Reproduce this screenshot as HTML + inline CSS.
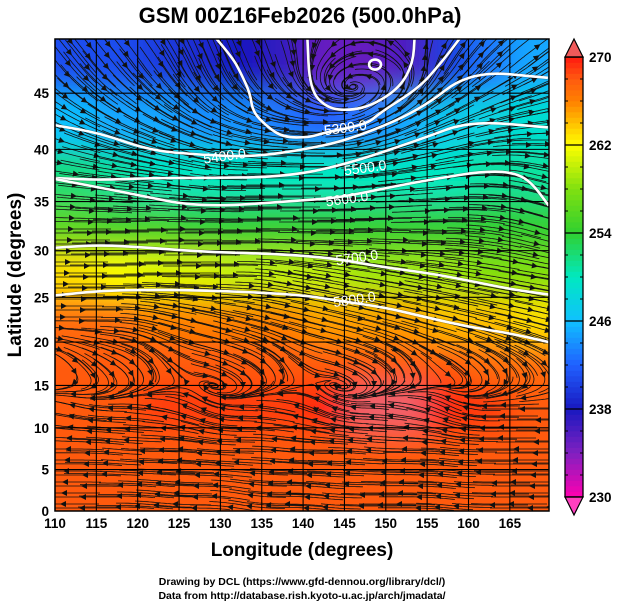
<!DOCTYPE html>
<html><head><meta charset="utf-8"><style>
html,body{margin:0;padding:0;background:#fff;}
svg{display:block;font-family:"Liberation Sans",Arial,sans-serif;}
</style></head><body>
<svg id="chart" width="619" height="605" viewBox="0 0 619 605">
<defs>
<clipPath id="plotclip"><rect x="55" y="39" width="494" height="472"/></clipPath>
<filter id="blur" x="-20%" y="-20%" width="140%" height="140%"><feGaussianBlur stdDeviation="14"/></filter>
</defs>
<text x="300" y="23" text-anchor="middle" font-size="22" font-weight="bold">GSM 00Z16Feb2026 (500.0hPa)</text>
<g id="field" clip-path="url(#plotclip)"><g id="cells" filter="url(#blur)"></g></g>
<g id="stream" clip-path="url(#plotclip)"></g>
<g id="grid"></g>
<g id="contours" clip-path="url(#plotclip)"></g>
<rect x="55" y="39" width="494" height="472" fill="none" stroke="#000" stroke-width="1.5"/>
<g id="xticks"></g>
<g id="yticks"></g>
<text x="302" y="556" text-anchor="middle" font-size="19" font-weight="bold">Longitude (degrees)</text>
<text transform="translate(21,275) rotate(-90)" text-anchor="middle" font-size="19" font-weight="bold">Latitude  (degrees)</text>
<g id="cbar"></g>
<text x="302" y="585" text-anchor="middle" font-size="10.5" font-weight="bold">Drawing by DCL (https://www.gfd-dennou.org/library/dcl/)</text>
<text x="302" y="599" text-anchor="middle" font-size="10.5" font-weight="bold">Data from http://database.rish.kyoto-u.ac.jp/arch/jmadata/</text>
</svg>
<script>
// ---- data ----
const lonCenters = [112.5,117.5,122.5,127.5,132.5,137.5,142.5,147.5,152.5,157.5,162.5,167.5];
const latCenters = [47.5,42.5,37.5,32.5,27.5,22.5,17.5,12.5,7.5,2.5];
const temp = [
 [241,241,240,239,238,237,235,235,236,240,243,245],
 [246,245,245,244,244,243,242,243,245,247,248,249],
 [252,251,250,250,250,250,250,250,250,250,251,251],
 [256,255,255,254,254,254,254,254,254,254,254,254],
 [263,262,261,261,260,260,260,259,259,259,258,258],
 [267,267,266,266,266,266,265,265,265,264,264,263],
 [268,268,268,268,268,268,268,268,268,268,267,267],
 [268,268,269,269,269,269,270,271,271,270,269,268],
 [268,268,268,268,268,268,268,268,268,268,268,268],
 [268,268,268,268,268,268,268,268,268,268,268,268]
];
const windU = [
 [4,4,4,3,3,2,-2,-4,-2,3,4,4],
 [6,6,6,6,6,6,6,5,6,7,7,7],
 [8,8,8,8,8,9,9,9,9,9,9,8],
 [6,6,7,7,8,8,8,8,8,8,8,7],
 [5,5,5,5,6,6,6,6,6,6,6,6],
 [3,3,4,4,4,4,4,4,4,4,4,4],
 [1,1.5,1,2,2,1,2,2,1,1.5,1,1],
 [-2,-2,-2.5,-2,-2,-2.5,-2,-2,-2.5,-2,-2,-2],
 [-3,-3,-3,-3,-3,-3,-3,-3,-3,-3,-3,-3],
 [-3,-3,-3,-3,-3,-3,-3,-3,-3,-3,-3,-3]
];
const windV = [
 [-5,-5,-6,-7,-7,-6,-3,0,3,5,4,3],
 [-3,-3,-3,-3,-2,-1,0,2,3,3,2,1],
 [-1,-1,-1,-1,0,0,0,1,1,1,0,-2],
 [0,0,0,0,0,0,0,0,0,0,-1,-2],
 [0,0,0,0,0,-1,-1,-1,-1,-1,-1,-1],
 [0,0,-1,-1,-1,-1,-1,-1,-1,-1,-1,-1],
 [-1,-1,-1.5,-0.5,-1,-1.5,-0.5,-1,-1.5,-1,-1,-1],
 [0.5,0,0.5,1,0,0.5,1,0,0.5,1,0,0],
 [0,0.3,0,0.3,0,0.3,0,0.3,0,0.3,0,0],
 [0,0,0.3,0,0.5,0,0.3,0,0,0.3,0,0]
];
const contourLevels = ["5200.0","5300.0","5400.0","5500.0","5600.0","5700.0","5800.0"];
const contourLon = [
 [140.5,140.8,142.9,145.7,148.5,151.7,153.3,153.5],
 [129.1,131.5,132.4,133.6,133.9,135.6,137.6,140.8,142.4,147.7,149.3,154.1,156.6,157.8,159.3],
 [110,115.4,121.5,127.5,133.6,139.6,145.7,154.1,160.2,169.6],
 [110,115.4,121.5,127.5,137.6,144.8,154.1,160.2,169.6],
 [110,119.1,127.5,139.6,144.5,151.7,156.6,161.4,165,167.4,169.7],
 [110,115.4,121.4,127.5,134.8,139.6,144.4,149.3,155.3,160.1,165,169.7],
 [110,116.6,127.5,139.6,144.4,149.8,155.3,160.1,165,169.7]
];
const contourLat = [
 [49.8,45.3,43.7,43.5,44.0,45.5,47.5,49.8],
 [49.8,47.9,46.8,45.0,43.4,42.1,41.1,41.1,41.5,42.3,43.3,45.5,47.5,48.5,49.8],
 [42.2,41.5,39.9,39.5,39.3,39.9,40.9,43.5,46.9,46.3],
 [37.3,37.1,37.3,37.3,37.4,38.5,40.9,42.6,42.0],
 [37.2,35.8,34.4,35.1,35.4,36.6,37.3,37.9,37.9,37.1,34.6],
 [30.3,30.6,30.3,29.9,29.7,29.5,29.1,28.3,27.6,26.8,25.9,25.3],
 [25.2,25.8,25.8,25.3,24.6,23.9,22.7,21.7,21.0,20.0]
];
const labelLon = [null,145.1,130.5,147.5,145.3,146.5,146.2];
const labelLat = [null,42.0,39.4,38.3,35.3,29.3,24.8];
const xTickLabels = ["110","115","120","125","130","135","140","145","150","155","160","165"];
const xTickValues = [110,115,120,125,130,135,140,145,150,155,160,165];
const yTickLabels = ["0","5","10","15","20","25","30","35","40","45"];
const yTickValues = [0,5,10,15,20,25,30,35,40,45];
const cbarLabels = ["270","262","254","246","238","230"];
const cbarValues = [270,262,254,246,238,230];

// ---- axes ----
const NS="http://www.w3.org/2000/svg";
const X0=55, PXDEG=8.27, Y0=511, K=474;
function xs(lon){return X0+(lon-110)*PXDEG;}
function merc(lat){return Math.log(Math.tan(Math.PI/4+lat*Math.PI/360));}
function ys(lat){return Y0-K*merc(lat);}
function latOf(y){return (2*Math.atan(Math.exp((Y0-y)/K))-Math.PI/2)*180/Math.PI;}
function lonOf(x){return 110+(x-X0)/PXDEG;}
function mk(tag,attrs,parent){const e=document.createElementNS(NS,tag);for(const k in attrs)e.setAttribute(k,attrs[k]);parent.appendChild(e);return e;}

const cstops=[[230,[255,0,176]],[234,[128,32,192]],[238,[24,24,192]],[242,[32,96,255]],[246,[16,192,255]],[250,[0,232,192]],[254,[48,208,48]],[258,[128,224,16]],[262,[255,255,0]],[264,[255,192,0]],[266,[255,128,0]],[268,[255,90,16]],[270,[255,26,16]]];
function tcolor(t){
  if(t>270.3) return "rgb(240,96,110)";
  if(t<=230) return "rgb(255,0,176)";
  for(let i=0;i<cstops.length-1;i++){const a=cstops[i],b=cstops[i+1];
    if(t<=b[0]){const f=(t-a[0])/(b[0]-a[0]);const c=a[1].map((v,j)=>Math.round(v+(b[1][j]-v)*f));return "rgb("+c.join(",")+")";}}
  return "rgb(255,26,16)";
}
// ---- field cells ----
const cells=document.getElementById('cells');
latCenters.forEach((la,i)=>{
  lonCenters.forEach((lo,j)=>{
    let lonA=lo-2.5, lonB=lo+2.5, latA=la-2.5, latB=la+2.5;
    if(j===0) lonA-=10; if(j===lonCenters.length-1) lonB+=10;
    if(i===0) latB=62; if(i===latCenters.length-1) latA=-10;
    const r=mk('rect',{x:xs(lonA),y:ys(latB),width:xs(lonB)-xs(lonA)+0.5,height:ys(latA)-ys(latB)+0.5,fill:tcolor(temp[i][j])},cells);
    
    
  });
});
// ---- wind interpolation for streamlines ----
function interp(arr,lon,lat){
  let fj=(lon-lonCenters[0])/5, fi=(latCenters[0]-lat)/5;
  fj=Math.max(0,Math.min(lonCenters.length-1.001,fj)); fi=Math.max(0,Math.min(latCenters.length-1.001,fi));
  const j=Math.floor(fj), i=Math.floor(fi), a=fj-j, b=fi-i;
  return arr[i][j]*(1-a)*(1-b)+arr[i][j+1]*a*(1-b)+arr[i+1][j]*(1-a)*b+arr[i+1][j+1]*a*b;
}
const stream=document.getElementById('stream');
function trace(x,y,dir,n){
  const pts=[];
  for(let s=0;s<n;s++){
    const lo=lonOf(x), la=latOf(y);
    const u=interp(windU,lo,la), v=interp(windV,lo,la);
    const m=Math.hypot(u,v)||1;
    x+=dir*2*u/m; y-=dir*2*v/m; pts.push([x,y]);
  }
  return pts;
}
for(let sy=44; sy<511; sy+=11){
  for(let sx=60; sx<549; sx+=22){
    const x=sx+((sy*37+sx*13)%17), y=sy+((sx*7)%5)-2;
    const back=trace(x,y,-1,18).reverse(), fwd=trace(x,y,1,20);
    const pts=back.concat([[x,y]]).concat(fwd);
    const p=mk('polyline',{points:pts.map(q=>q[0].toFixed(1)+","+q[1].toFixed(1)).join(" "),fill:"none",stroke:"#111","stroke-width":"0.8"},stream);
    
    
    const lo=lonOf(x),la=latOf(y),u=interp(windU,lo,la),v=interp(windV,lo,la),m=Math.hypot(u,v)||1;
    const dx=u/m, dy=-v/m, hx=x+dx*3, hy=y+dy*3;
    const ah=mk('polygon',{points:`${hx},${hy} ${x-dx*3-dy*3},${y-dy*3+dx*3} ${x-dx*3+dy*3},${y-dy*3-dx*3}`,fill:"#111"},stream);
    
    
  }
}
// ---- grid & ticks ----
const grid=document.getElementById('grid'), xt=document.getElementById('xticks'), yt=document.getElementById('yticks');
xTickValues.forEach((v,i)=>{
  const gl=mk('line',{x1:xs(v),x2:xs(v),y1:39,y2:511,stroke:"#000","stroke-width":"1.1"},grid);
  
  
  const t=mk('text',{x:xs(v),y:528,"text-anchor":"middle","font-size":"13.5","font-weight":"bold"},xt);
  t.textContent=xTickLabels[i];
  
  
});
yTickValues.forEach((v,i)=>{
  const gl=mk('line',{x1:55,x2:549,y1:ys(v),y2:ys(v),stroke:"#000","stroke-width":"1.1"},grid);
  
  
  const t=mk('text',{x:49,y:ys(v)+5,"text-anchor":"end","font-size":"13.5","font-weight":"bold"},yt);
  t.textContent=yTickLabels[i];
  
  
});
// ---- contours ----
const cg=document.getElementById('contours');
contourLon.forEach((lons,c)=>{
  const pts=lons.map((lo,k)=>[xs(lo),ys(contourLat[c][k])]);
  let d="M"+pts[0][0]+","+pts[0][1];
  for(let k=1;k<pts.length;k++){const p0=pts[k-1],p1=pts[k];const mx=(p0[0]+p1[0])/2,my=(p0[1]+p1[1])/2;d+=" Q"+p0[0]+","+p0[1]+" "+mx+","+my;}
  d+=" L"+pts[pts.length-1][0]+","+pts[pts.length-1][1];
  const sh=mk('path',{d:d,fill:"none",stroke:"#222","stroke-width":"3.6","stroke-opacity":"0.35"},cg);
  
  
  const p=mk('path',{d:d,fill:"none",stroke:"#fff","stroke-width":"2.6"},cg);
  
  
  if(labelLon[c]!==null){
    const lx=xs(labelLon[c]), ly=ys(labelLat[c]);
    const t=mk('text',{x:lx,y:ly+5,"text-anchor":"middle","font-size":"14",fill:"#fff",stroke:"none",transform:`rotate(-8 ${lx} ${ly})`},cg);
    t.textContent=contourLevels[c];
    
    
  }
});
const lowC=mk('ellipse',{cx:xs(148.7),cy:ys(47.4),rx:6,ry:5,fill:"none",stroke:"#fff","stroke-width":"2.6"},cg);


// ---- colorbar ----
const cb=document.getElementById('cbar');
const CBX=565, CBW=18, CBTOP=57, CBBOT=497;
function cy(t){return CBBOT-(t-230)*(CBBOT-CBTOP)/40;}
for(let t=230;t<270;t+=0.5){
  const r=mk('rect',{x:CBX,y:cy(t+0.5),width:CBW,height:cy(t)-cy(t+0.5)+0.3,fill:tcolor(t+0.25)},cb);
  
  
}
const fr=mk('rect',{x:CBX,y:CBTOP,width:CBW,height:CBBOT-CBTOP,fill:"none",stroke:"#000","stroke-width":"1.3"},cb);


const tu=mk('polygon',{points:`${CBX},${CBTOP} ${CBX+CBW},${CBTOP} ${CBX+CBW/2},39`,fill:"#f05a5a",stroke:"#000","stroke-width":"1.2"},cb);


const td=mk('polygon',{points:`${CBX},${CBBOT} ${CBX+CBW},${CBBOT} ${CBX+CBW/2},515`,fill:"#ff40c0",stroke:"#000","stroke-width":"1.2"},cb);


for(let t=232;t<270;t+=2){
  const a=mk('line',{x1:CBX,x2:CBX+3,y1:cy(t),y2:cy(t),stroke:"#000","stroke-width":"1"},cb);
  
  
  const b=mk('line',{x1:CBX+CBW-3,x2:CBX+CBW,y1:cy(t),y2:cy(t),stroke:"#000","stroke-width":"1"},cb);
  
  
}
cbarValues.forEach((v,i)=>{
  const l=mk('line',{x1:CBX,x2:CBX+CBW,y1:cy(v),y2:cy(v),stroke:"#000","stroke-width":"1.2"},cb);
  
  
  const t=mk('text',{x:589,y:cy(v)+5,"font-size":"13.5","font-weight":"bold"},cb);
  t.textContent=cbarLabels[i];
  
  
});
</script>
</body></html>
